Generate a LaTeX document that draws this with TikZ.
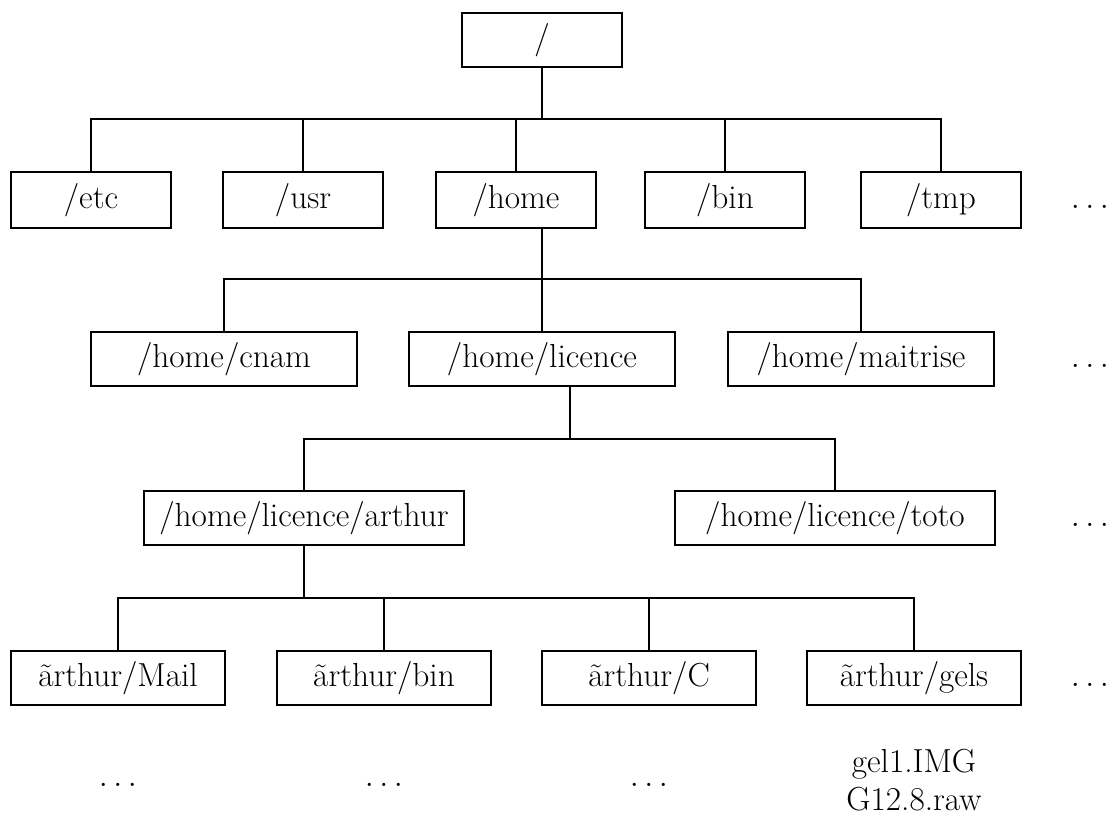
\documentclass[tikz,border=0pt]{standalone}
\newcommand\bigt[1]{{\fontsize{25}{28}\selectfont #1}}
\tikzset{
  dirbox/.style={draw, line width=2pt, inner sep=0pt, minimum height=40.5pt},
  lvlone/.style={dirbox, minimum width=120pt, minimum height=42pt},
  lvltwo/.style={dirbox, minimum width=199.5pt},
  lvlthree/.style={dirbox, minimum width=240pt},
  lvlfour/.style={dirbox, minimum width=160.5pt},
  more/.style={inner sep=0pt},
  link/.style={line width=1.6pt}
}
\begin{document}
\begin{tikzpicture}[x=0.75pt,y=-0.75pt]
\useasboundingbox (0,0) rectangle (1110,816);
% level 0
\node[dirbox, minimum width=120pt] (root) at (542,40) {\bigt{/}};
% level 1
\node[lvlone] (etc) at (91,200) {\bigt{/etc}};
\node[lvlone] (usr) at (303,200) {\bigt{/usr}};
\node[lvlone] (home) at (516,200) {\bigt{/home}};
\node[lvlone] (bin) at (725,200) {\bigt{/bin}};
\node[lvlone] (tmp) at (941,200) {\bigt{/tmp}};
\node[more] (dots1) at (1090,200) {\bigt{\vphantom{/}$\ldots$}};
% level 2
\node[lvltwo] (cnam) at (224,359) {\bigt{/home/cnam}};
\node[lvltwo] (licence) at (542,359) {\bigt{/home/licence}};
\node[lvltwo] (maitrise) at (861,359) {\bigt{/home/maitrise}};
\node[more] (dots2) at (1090,359) {\bigt{\vphantom{/}$\ldots$}};
% level 3
\node[lvlthree] (arthur) at (304,518) {\bigt{/home/licence/arthur}};
\node[lvlthree] (toto) at (835,518) {\bigt{/home/licence/toto}};
\node[more] (dots3) at (1090,518) {\bigt{\vphantom{/}$\ldots$}};
% level 4
\node[lvlfour] (mail) at (118,678) {\bigt{\~{a}rthur/Mail}};
\node[lvlfour] (abin) at (384,678) {\bigt{\~{a}rthur/bin}};
\node[lvlfour] (ac) at (649,678) {\bigt{\~{a}rthur/C}};
\node[lvlfour] (gels) at (914,678) {\bigt{\~{a}rthur/gels}};
\node[more] (dots4) at (1090,678) {\bigt{\vphantom{/}$\ldots$}};
% level 5
\node[more, anchor=base] (mailsub) at (118,786) {\bigt{$\ldots$}};
\node[more, anchor=base] (binsub) at (384,786) {\bigt{$\ldots$}};
\node[more, anchor=base] (csub) at (649,786) {\bigt{$\ldots$}};
\node[more, anchor=base, align=center, font=\fontsize{25}{28}\selectfont] (gelsub) at (914,810) {gel1.IMG\\G12.8.raw};
% junctions
\coordinate (b1) at (542,119);
\coordinate (b2) at (542,279);
\coordinate (b3) at (570,439);
\coordinate (b4) at (304,598);
% connectors level 0 -> 1
\draw[link] (root.south) -- (b1);
\draw[link] (etc.north) -- (etc.north |- b1) -- (tmp.north |- b1) -- (tmp.north);
\draw[link] (usr.north) -- (usr.north |- b1);
\draw[link] (home.north) -- (home.north |- b1);
\draw[link] (bin.north) -- (bin.north |- b1);
% home -> level 2
\draw[link] (home.south -| b2) -- (b2);
\draw[link] (cnam.north) -- (cnam.north |- b2) -- (maitrise.north |- b2) -- (maitrise.north);
\draw[link] (licence.north) -- (licence.north |- b2);
% licence -> level 3
\draw[link] (licence.south -| b3) -- (b3);
\draw[link] (arthur.north) -- (arthur.north |- b3) -- (toto.north |- b3) -- (toto.north);
% arthur -> level 4
\draw[link] (arthur.south) -- (b4);
\draw[link] (mail.north) -- (mail.north |- b4) -- (gels.north |- b4) -- (gels.north);
\draw[link] (abin.north) -- (abin.north |- b4);
\draw[link] (ac.north) -- (ac.north |- b4);
\end{tikzpicture}
\end{document}
